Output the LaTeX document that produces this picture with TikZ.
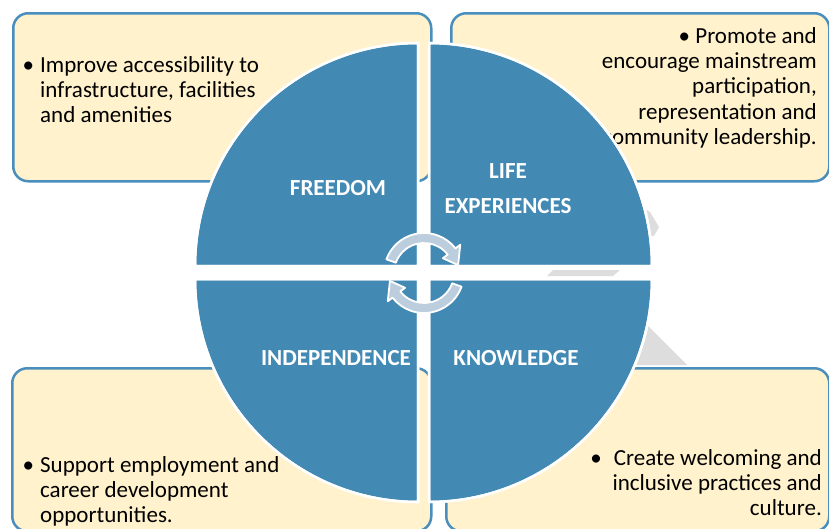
\documentclass[tikz,border=0pt]{standalone}
\usepackage{fontspec}
\setmainfont{Carlito}
\definecolor{quad}{RGB}{66,137,180}
\definecolor{boxline}{RGB}{74,142,190}
\definecolor{cream}{RGB}{255,242,204}
\definecolor{shade}{RGB}{221,221,221}
\definecolor{arrowfill}{RGB}{188,206,222}
\tikzset{
 infobox/.style={fill=cream, draw=boxline, line width=2.5pt, rounded corners=15pt, inner sep=0pt},
 quadrant/.style={fill=quad, draw=white, line width=2.5pt},
 bodytext/.style={font=\fontsize{23}{25.3}\selectfont, inner sep=0pt, text=black},
 qlabel/.style={font=\fontsize{23}{25}\selectfont\bfseries, text=white, inner sep=0pt, anchor=base},
 cyclearrow/.style={fill=arrowfill, draw=white, line width=1.8pt, line join=round},
 ghost/.style={fill=shade}
}
\begin{document}
\begin{tikzpicture}[x=1pt,y=-1pt]
\useasboundingbox (0,0) rectangle (829,528);
\clip (0,0) rectangle (829,528);
\fill[white] (0,0) rectangle (829,528);

% grey background pieces
\fill[ghost] (630,200) -- (650,212) -- (659,227) -- (654,236) -- (630,236) -- cycle;
\fill[ghost] (547,276) -- (553,270) -- (620,270) -- (613,276) -- cycle;
\fill[ghost] (630,308) -- (687,365) -- (600,365) -- cycle;

% boxes
\node[infobox, anchor=north west, minimum width=418pt, minimum height=168pt] (tlbox) at (12,12) {};
\node[infobox, anchor=north west, minimum width=378pt, minimum height=168pt] (trbox) at (450,12) {};
\node[infobox, anchor=north west, minimum width=419pt, minimum height=163pt] (blbox) at (11,367) {};
\node[infobox, anchor=north west, minimum width=383pt, minimum height=163pt] (brbox) at (445,367) {};

% box texts
\node[bodytext, anchor=north west, align=left] (tltext) at (40,54.3)
 {\strut\llap{•\hspace{6pt}}Improve accessibility to\\infrastructure, facilities\\and amenities};
\node[bodytext, anchor=north east, align=right] (trtext) at (817,25.3)
 {\strut• Promote and\\encourage mainstream\\participation,\\representation and\\community leadership.};
\node[bodytext, anchor=north west, align=left] (bltext) at (40,454.3)
 {\strut\llap{•\hspace{6pt}}Support employment and\\career development\\opportunities.};
\node[bodytext, anchor=north east, align=right] (brtext) at (822,447.3)
 {\strut•\hspace{12pt}Create welcoming and\\inclusive practices and\\culture.};

% quadrants
\fill[quadrant] (418,266) -- (195,266) arc[start angle=180, end angle=270, radius=223] -- cycle;
\fill[quadrant] (429,266) -- (429,43) arc[start angle=270, end angle=360, radius=223] -- cycle;
\fill[quadrant] (418,279) -- (418,502) arc[start angle=90, end angle=180, radius=223] -- cycle;
\fill[quadrant] (429,279) -- (652,279) arc[start angle=0, end angle=90, radius=223] -- cycle;
\draw[quadrant, fill=none] (418,266) -- (195,266) arc[start angle=180, end angle=270, radius=223] -- cycle;
\draw[quadrant, fill=none] (429,266) -- (429,43) arc[start angle=270, end angle=360, radius=223] -- cycle;
\draw[quadrant, fill=none] (418,279) -- (418,502) arc[start angle=90, end angle=180, radius=223] -- cycle;
\draw[quadrant, fill=none] (429,279) -- (652,279) arc[start angle=0, end angle=90, radius=223] -- cycle;

% quadrant labels
\node[qlabel] (freedom) at (338,195) {FREEDOM};
\node[qlabel] (life) at (508,178) {LIFE};
\node[qlabel] (exper) at (508,213) {EXPERIENCES};
\node[qlabel] (indep) at (336,365) {INDEPENDENCE};
\node[qlabel] (know) at (516,365) {KNOWLEDGE};

% centre cycle arrows
\begin{scope}[shift={(424,273)}]
\draw[cyclearrow] (200:40) arc[start angle=200, end angle=322, radius=40] -- (322:46) -- (347:35) -- (322:24) -- (322:30) arc[start angle=322, end angle=200, radius=30] -- cycle;
\draw[cyclearrow] (20:40) arc[start angle=20, end angle=142, radius=40] -- (142:46) -- (167:35) -- (142:24) -- (142:30) arc[start angle=142, end angle=20, radius=30] -- cycle;
\end{scope}
\end{tikzpicture}
\end{document}
